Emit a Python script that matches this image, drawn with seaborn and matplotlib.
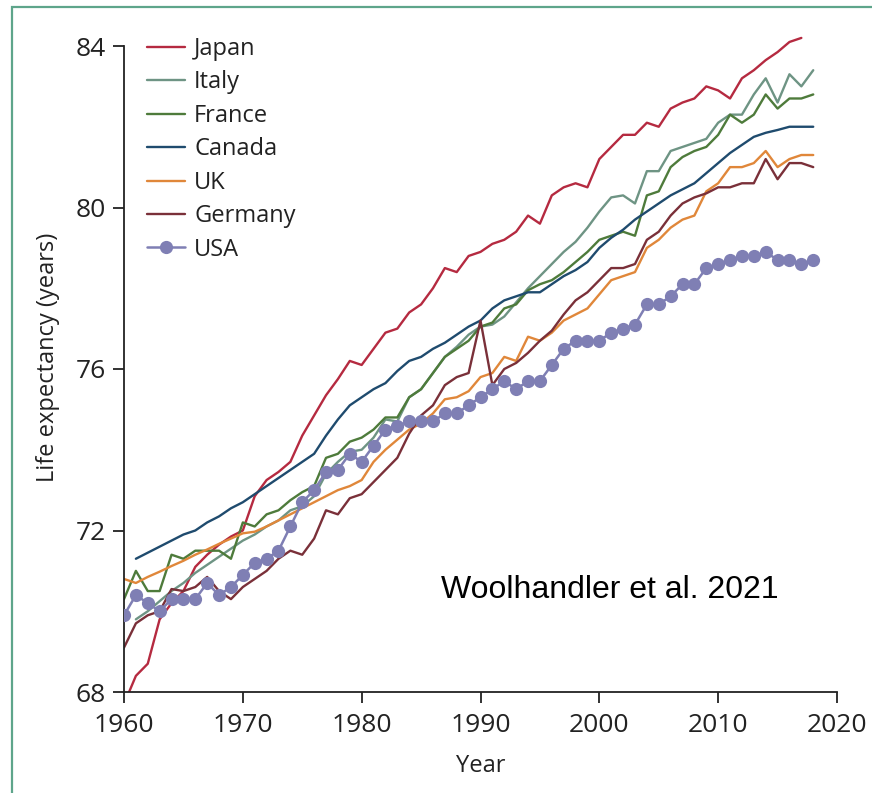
import numpy as np
import pandas as pd
import matplotlib
matplotlib.use("Agg")
import matplotlib.pyplot as plt
from matplotlib.patches import Rectangle
import seaborn as sns

# Life expectancy at birth (years), 1960-2018
years = list(range(1960, 2019))

japan = [67.7, 68.4, 68.7, 69.8, 70.2, 70.5, 71.1, 71.4, 71.65, 71.85,
         72.0, 72.85, 73.25, 73.45, 73.7, 74.35, 74.85, 75.35, 75.75, 76.2,
         76.1, 76.5, 76.9, 77.0, 77.4, 77.6, 78.0, 78.5, 78.4, 78.8,
         78.9, 79.1, 79.2, 79.4, 79.8, 79.6, 80.3, 80.5, 80.6, 80.5,
         81.2, 81.5, 81.8, 81.8, 82.1, 82.0, 82.45, 82.6, 82.7, 83.0,
         82.9, 82.7, 83.2, 83.4, 83.65, 83.85, 84.1, 84.2, None]

italy = [None, 69.8, 70.0, 70.25, 70.5, 70.7, 70.95, 71.15, 71.35, 71.55,
         71.75, 71.9, 72.1, 72.25, 72.5, 72.6, 72.85, 73.4, 73.7, 73.95,
         74.0, 74.3, 74.75, 74.7, 75.3, 75.5, 75.9, 76.3, 76.55, 76.85,
         77.05, 77.1, 77.3, 77.65, 78.0, 78.3, 78.6, 78.9, 79.15, 79.5,
         79.9, 80.25, 80.3, 80.1, 80.9, 80.9, 81.4, 81.5, 81.6, 81.7,
         82.1, 82.3, 82.3, 82.8, 83.2, 82.6, 83.3, 83.0, 83.4]

france = [70.3, 71.0, 70.5, 70.5, 71.4, 71.3, 71.5, 71.5, 71.5, 71.3,
          72.2, 72.1, 72.4, 72.5, 72.75, 72.95, 73.1, 73.8, 73.9, 74.2,
          74.3, 74.5, 74.8, 74.8, 75.3, 75.5, 75.9, 76.3, 76.5, 76.7,
          77.05, 77.15, 77.5, 77.6, 77.95, 78.1, 78.2, 78.4, 78.65, 78.9,
          79.2, 79.3, 79.4, 79.3, 80.3, 80.4, 81.0, 81.25, 81.4, 81.5,
          81.8, 82.3, 82.1, 82.3, 82.8, 82.45, 82.7, 82.7, 82.8]

canada = [None, 71.3, 71.45, 71.6, 71.75, 71.9, 72.0, 72.2, 72.35, 72.55,
          72.7, 72.9, 73.1, 73.3, 73.5, 73.7, 73.9, 74.35, 74.75, 75.1,
          75.3, 75.5, 75.65, 75.95, 76.2, 76.3, 76.5, 76.65, 76.85, 77.05,
          77.2, 77.5, 77.7, 77.8, 77.9, 77.9, 78.1, 78.3, 78.45, 78.65,
          79.0, 79.25, 79.45, 79.7, 79.9, 80.1, 80.3, 80.45, 80.6, 80.85,
          81.1, 81.35, 81.55, 81.75, 81.85, 81.92, 82.0, 82.0, 82.0]

uk = [70.8, 70.7, 70.85, 70.98, 71.12, 71.25, 71.4, 71.53, 71.67, 71.8,
      71.93, 71.97, 72.1, 72.25, 72.4, 72.55, 72.7, 72.85, 73.0, 73.1,
      73.25, 73.7, 74.0, 74.25, 74.5, 74.65, 74.9, 75.25, 75.3, 75.45,
      75.8, 75.9, 76.3, 76.2, 76.8, 76.7, 76.9, 77.2, 77.35, 77.5,
      77.85, 78.2, 78.3, 78.4, 79.0, 79.2, 79.5, 79.7, 79.8, 80.4,
      80.6, 81.0, 81.0, 81.1, 81.4, 81.0, 81.2, 81.3, 81.3]

germany = [69.1, 69.7, 69.9, 70.0, 70.55, 70.5, 70.6, 70.85, 70.5, 70.3,
           70.6, 70.8, 71.0, 71.3, 71.5, 71.4, 71.8, 72.5, 72.4, 72.8,
           72.9, 73.2, 73.5, 73.8, 74.4, 74.85, 75.1, 75.6, 75.8, 75.9,
           77.2, 75.6, 76.0, 76.15, 76.4, 76.7, 76.95, 77.35, 77.7, 77.9,
           78.2, 78.5, 78.5, 78.6, 79.2, 79.4, 79.8, 80.1, 80.25, 80.35,
           80.5, 80.5, 80.6, 80.6, 81.2, 80.7, 81.1, 81.1, 81.0]

usa = [69.9, 70.4, 70.2, 70.0, 70.3, 70.3, 70.3, 70.7, 70.4, 70.6,
       70.9, 71.2, 71.3, 71.5, 72.1, 72.7, 73.0, 73.45, 73.5, 73.9,
       73.7, 74.1, 74.5, 74.6, 74.7, 74.7, 74.7, 74.9, 74.9, 75.1,
       75.3, 75.5, 75.7, 75.5, 75.7, 75.7, 76.1, 76.5, 76.7, 76.7,
       76.7, 76.9, 77.0, 77.1, 77.6, 77.6, 77.8, 78.1, 78.1, 78.5,
       78.6, 78.7, 78.8, 78.8, 78.9, 78.7, 78.7, 78.6, 78.7]

countries = ["Japan", "Italy", "France", "Canada", "UK", "Germany", "USA"]
series = [japan, italy, france, canada, uk, germany, usa]
colors = ["#b52a40", "#6e9484", "#4e7b3b", "#1f4b6e", "#e0873a", "#7a3039", "#7f7fb4"]

x_ticks = [1960, 1970, 1980, 1990, 2000, 2010, 2020]
y_ticks = [68, 72, 76, 80, 84]

df = pd.DataFrame({"Year": years})
for name, vals in zip(countries, series):
    df[name] = [np.nan if v is None else v for v in vals]
long = df.melt(id_vars="Year", var_name="Country", value_name="LE").dropna()

sns.set_theme(style="ticks")
plt.rcParams["font.family"] = ["Open Sans", "DejaVu Sans"]

W, H = 872, 793
fig = plt.figure(figsize=(W / 100, H / 100), dpi=100)
fig.patch.set_facecolor("white")

# y runs 68..84 over pixels 692..46; leave headroom above 84 for the highest line
px_per_year = (692 - 46) / 16
y_top = 84.6
top_px = 46 - (y_top - 84) * px_per_year
ax = fig.add_axes([124 / W, 1 - 692 / H, (837 - 124) / W, (692 - top_px) / H])
ax.patch.set_alpha(0)

for name, color in zip(countries, colors):
    sub = long[long["Country"] == name]
    if name == "USA":
        sns.lineplot(data=sub, x="Year", y="LE", ax=ax, color=color, lw=1.8,
                     marker="o", markersize=9.5, markeredgewidth=0,
                     label=name, zorder=3)
    else:
        sns.lineplot(data=sub, x="Year", y="LE", ax=ax, color=color, lw=1.7,
                     label=name, zorder=2)

ax.set_xlim(1960, 2020)
ax.set_ylim(68, y_top)
ax.set_xticks(x_ticks)
ax.set_yticks(y_ticks)
ax.spines["left"].set_bounds(68, 84)
ax.tick_params(axis="both", direction="out", length=8, width=1.3,
               labelsize=19, colors="#222222")
ax.tick_params(axis="x", pad=7)
ax.tick_params(axis="y", pad=5)
for side in ("top", "right"):
    ax.spines[side].set_visible(False)
for side in ("left", "bottom"):
    ax.spines[side].set_linewidth(1.3)
    ax.spines[side].set_color("#222222")
ax.set_xlabel("Year", fontsize=17, labelpad=12, color="#222222")
ax.set_ylabel("Life expectancy (years)", fontsize=17, labelpad=11, color="#222222")

leg = ax.legend(loc="upper left", bbox_to_anchor=(147 / W, 1 - 37 / H),
                bbox_transform=fig.transFigure, frameon=False,
                fontsize=17, handlelength=1.6, handletextpad=0.4,
                labelspacing=0.40, borderaxespad=0, borderpad=0)
for t in leg.get_texts():
    t.set_color("#222222")

ax.text(0.445, 0.152, "Woolhandler et al. 2021", transform=ax.transAxes,
        fontsize=23, family="Liberation Sans", color="black", va="center")

# thin teal frame around the panel
fig.patches.append(Rectangle((12 / W, -0.02), 0.99, 1 - 7 / H + 0.02,
                             transform=fig.transFigure, fill=False,
                             edgecolor="#5ea58b", linewidth=1.6))

fig.savefig("out.png", dpi=100, facecolor="white")
